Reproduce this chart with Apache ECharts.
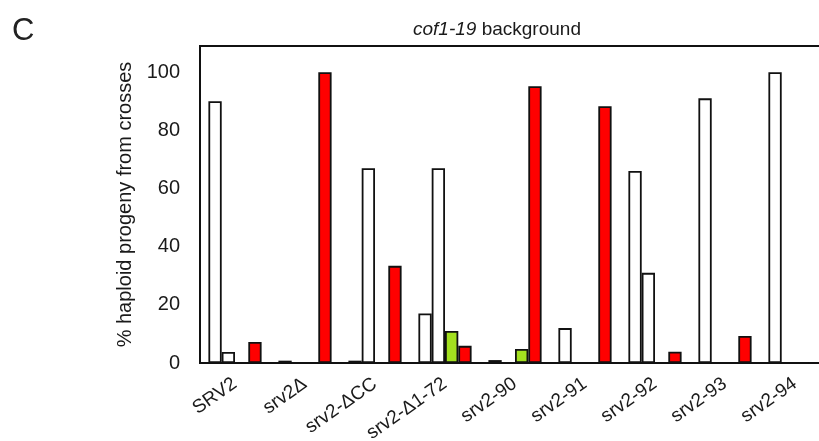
<!DOCTYPE html>
<html lang="en">
<head>
    <meta charset="UTF-8">
    <title>cof1-19 background</title>
    <script src="https://cdn.jsdelivr.net/npm/echarts@6/dist/echarts.min.js"></script>
    <style>
        html, body { margin: 0; padding: 0; background: #fff; }
    </style>
</head>
<body>
<div id="main" style="width: 819px;height:441px;"></div>
<script>
    // strains along the x axis
    var categories = ['SRV2', 'srv2Δ', 'srv2-ΔCC', 'srv2-Δ1-72', 'srv2-90', 'srv2-91', 'srv2-92', 'srv2-93', 'srv2-94'];
    // % haploid progeny, four bars per strain
    var white1 = [90, 0.8, 0.8, 17, 1, 12, 66, 91, 100];
    var white2 = [3.8, 0, 67, 67, 0, 0, 31, 0, 0];
    var green = [0, 0, 0, 11, 4.8, 0, 0, 0, 0];
    var red = [7.2, 100, 33.4, 5.9, 95.2, 88.3, 3.9, 9.3, 0];
    var yTicks = [0, 20, 40, 60, 80, 100];

    var font = 'Liberation Sans';
    var barBorder = {borderColor: '#111', borderWidth: 1.8};

    function bar(data, color) {
        return {
            type: 'bar',
            data: data,
            barGap: 0,
            barCategoryGap: '24%',
            itemStyle: Object.assign({color: color}, barBorder),
            silent: true
        };
    }

    var option = {
        animation: false,
        textStyle: {fontFamily: font},
        title: [{
            text: '{i|cof1-19} background',
            left: 408,
            top: 15,
            textStyle: {
                fontFamily: font,
                fontSize: 19,
                fontWeight: 'normal',
                color: '#1a1a1a',
                rich: {
                    i: {fontFamily: font, fontSize: 19, fontStyle: 'italic', color: '#1a1a1a'}
                }
            }
        }, {
            text: 'C',
            left: 7,
            top: 11,
            textStyle: {fontFamily: font, fontSize: 31, fontWeight: 'lighter', color: '#222'}
        }],
        grid: {
            left: 200,
            top: 46,
            width: 630,
            height: 317,
            show: true,
            borderColor: '#111',
            borderWidth: 2,
            containLabel: false,
            outerBoundsMode: 'none'
        },
        xAxis: {
            type: 'category',
            data: categories,
            axisLine: {lineStyle: {color: '#111', width: 2}},
            axisTick: {show: false},
            axisLabel: {
                interval: 0,
                rotate: 35,
                margin: 19,
                fontFamily: font,
                fontSize: 19,
                color: '#1a1a1a'
            }
        },
        yAxis: {
            type: 'value',
            min: 0,
            max: 109,
            interval: 20,
            name: '% haploid progeny from crosses',
            nameLocation: 'middle',
            nameGap: 64,
            nameTextStyle: {fontFamily: font, fontSize: 20, color: '#1a1a1a'},
            axisLine: {show: true, lineStyle: {color: '#111', width: 2}},
            axisTick: {show: false},
            splitLine: {show: false},
            axisLabel: {
                margin: 20,
                fontFamily: font,
                fontSize: 20,
                color: '#1a1a1a',
                showMaxLabel: false,
                formatter: function (v) { return yTicks.indexOf(v) >= 0 ? String(v) : ''; }
            }
        },
        series: [
            bar(white1, '#fff'),
            bar(white2, '#fff'),
            bar(green, '#a3e01f'),
            bar(red, '#ff0000')
        ]
    };

    var myChart = echarts.init(document.getElementById('main'));
    myChart.setOption(option);
</script>
</body>
</html>
